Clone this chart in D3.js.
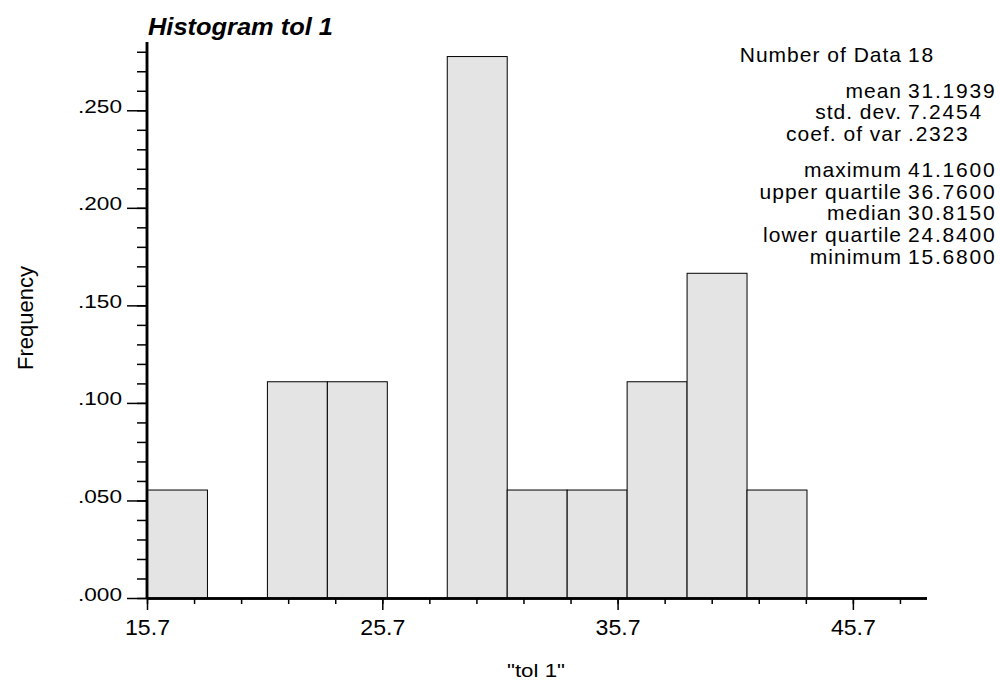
<!DOCTYPE html>
<html>
<head>
<meta charset="utf-8">
<script src="https://cdn.jsdelivr.net/npm/d3@7"></script>
<style>
  html, body { margin: 0; padding: 0; background: #fff; }
  svg { display: block; }
  text { font-family: "Liberation Sans", Arial, Helvetica, sans-serif; fill: #000; }
</style>
</head>
<body>
<svg id="chart" width="1000" height="682"></svg>
<script>
// Histogram of the variable "tol 1": 11 classes of equal width from the minimum
const binStart = 15.68;
const binWidth = 2.548;
const frequencies = [0.0556, 0.0, 0.1111, 0.1111, 0.0, 0.2778, 0.0556, 0.0556, 0.1111, 0.1667, 0.0556];

// Axis ticks
const xMajorTicks = [15.68, 25.68, 35.68, 45.68];
const xMinorTicks = [15.68, 17.68, 19.68, 21.68, 23.68, 25.68, 27.68, 29.68, 31.68, 33.68, 35.68, 37.68, 39.68, 41.68, 43.68, 45.68, 47.68];
const yMajorTicks = [0, 0.05, 0.10, 0.15, 0.20, 0.25];
const yMinorTicks = [0, 0.01, 0.02, 0.03, 0.04, 0.05, 0.06, 0.07, 0.08, 0.09, 0.10, 0.11, 0.12, 0.13, 0.14, 0.15, 0.16, 0.17, 0.18, 0.19, 0.20, 0.21, 0.22, 0.23, 0.24, 0.25, 0.26, 0.27, 0.28];

// Summary statistics block
const statLabels = ["Number of Data", "mean", "std. dev.", "coef. of var", "maximum", "upper quartile", "median", "lower quartile", "minimum"];
const statValues = ["18", "31.1939", "7.2454", ".2323", "41.1600", "36.7600", "30.8150", "24.8400", "15.6800"];
const statGroups = [0, 1, 1, 1, 2, 2, 2, 2, 2];

const titleText = "Histogram tol 1";
const xTitle = "\"tol 1\"";
const yTitle = "Frequency";

const svg = d3.select("#chart");

const x = d3.scaleLinear().domain([15.68, 48.83]).range([147, 927]);
const y = d3.scaleLinear().domain([0, 0.285]).range([598, 42]);

// Bars (empty classes are not drawn)
const bins = frequencies.map((f, i) => ({ f, x0: binStart + i * binWidth, x1: binStart + (i + 1) * binWidth }))
  .filter(b => b.f > 0);

svg.append("g")
  .selectAll("rect")
  .data(bins)
  .join("rect")
  .attr("x", d => x(d.x0) + 0.5)
  .attr("y", d => y(d.f) + 0.5)
  .attr("width", d => x(d.x1) - x(d.x0))
  .attr("height", d => y(0) - y(d.f))
  .attr("fill", "#e4e4e4")
  .attr("stroke", "#000")
  .attr("stroke-width", 1);

// Y axis: minor then major ticks
const yMinor = svg.append("g").attr("transform", "translate(147,0)")
  .call(d3.axisLeft(y).tickValues(yMinorTicks).tickSize(10).tickFormat(""));
const yMajor = svg.append("g").attr("transform", "translate(147,0)")
  .call(d3.axisLeft(y).tickValues(yMajorTicks).tickSize(20).tickPadding(5)
    .tickFormat(d => d3.format(".3f")(d).replace(/^0/, "")));
[yMinor, yMajor].forEach(g => {
  g.select(".domain").attr("stroke-width", 2.5).attr("d", `M0,${y(0) + 1}V${y.range()[1]}`);
  g.selectAll(".tick line").attr("stroke-width", 1.5);
});
yMajor.selectAll(".tick text")
  .attr("font-size", 18.5)
  .attr("dy", "2")
  .attr("textLength", 44)
  .attr("lengthAdjust", "spacingAndGlyphs");

// X axis
const xMinor = svg.append("g").attr("transform", `translate(0,${y(0)})`)
  .call(d3.axisBottom(x).tickValues(xMinorTicks).tickSize(6).tickFormat(""));
const xMajor = svg.append("g").attr("transform", `translate(0,${y(0)})`)
  .call(d3.axisBottom(x).tickValues(xMajorTicks).tickSize(12).tickPadding(0)
    .tickFormat(d3.format(".1f")));
[xMinor, xMajor].forEach(g => {
  g.select(".domain").attr("stroke-width", 2.5).attr("d", `M${x.range()[0]},0.5H${x.range()[1]}`);
  g.selectAll(".tick line").attr("stroke-width", 1.5);
});
xMajor.selectAll(".tick text")
  .attr("font-size", 22)
  .attr("y", 37)
  .attr("dy", "0")
  .attr("textLength", 45)
  .attr("lengthAdjust", "spacingAndGlyphs");

// Title
svg.append("text")
  .attr("x", 148).attr("y", 35)
  .attr("font-size", 23)
  .attr("font-weight", "bold")
  .attr("font-style", "italic")
  .attr("textLength", 185)
  .attr("lengthAdjust", "spacingAndGlyphs")
  .text(titleText);

// Axis titles
svg.append("text")
  .attr("transform", "translate(33,318) rotate(-90)")
  .attr("text-anchor", "middle")
  .attr("font-size", 22)
  .text(yTitle);

svg.append("text")
  .attr("x", 507).attr("y", 677)
  .attr("font-size", 18)
  .attr("textLength", 58)
  .attr("lengthAdjust", "spacingAndGlyphs")
  .text(xTitle);

// Statistics
const statG = svg.append("g");
const lineH = 21.7;
const groupGap = 14;
statLabels.forEach((lab, i) => {
  const yy = 62 + i * lineH + statGroups[i] * groupGap;
  statG.append("text")
    .attr("x", 902).attr("y", yy)
    .attr("text-anchor", "end")
    .attr("font-size", 21)
    .attr("letter-spacing", 1)
    .text(lab);
  statG.append("text")
    .attr("x", 908).attr("y", yy)
    .attr("font-size", 21)
    .attr("letter-spacing", 1.8)
    .text(statValues[i]);
});
</script>
</body>
</html>
